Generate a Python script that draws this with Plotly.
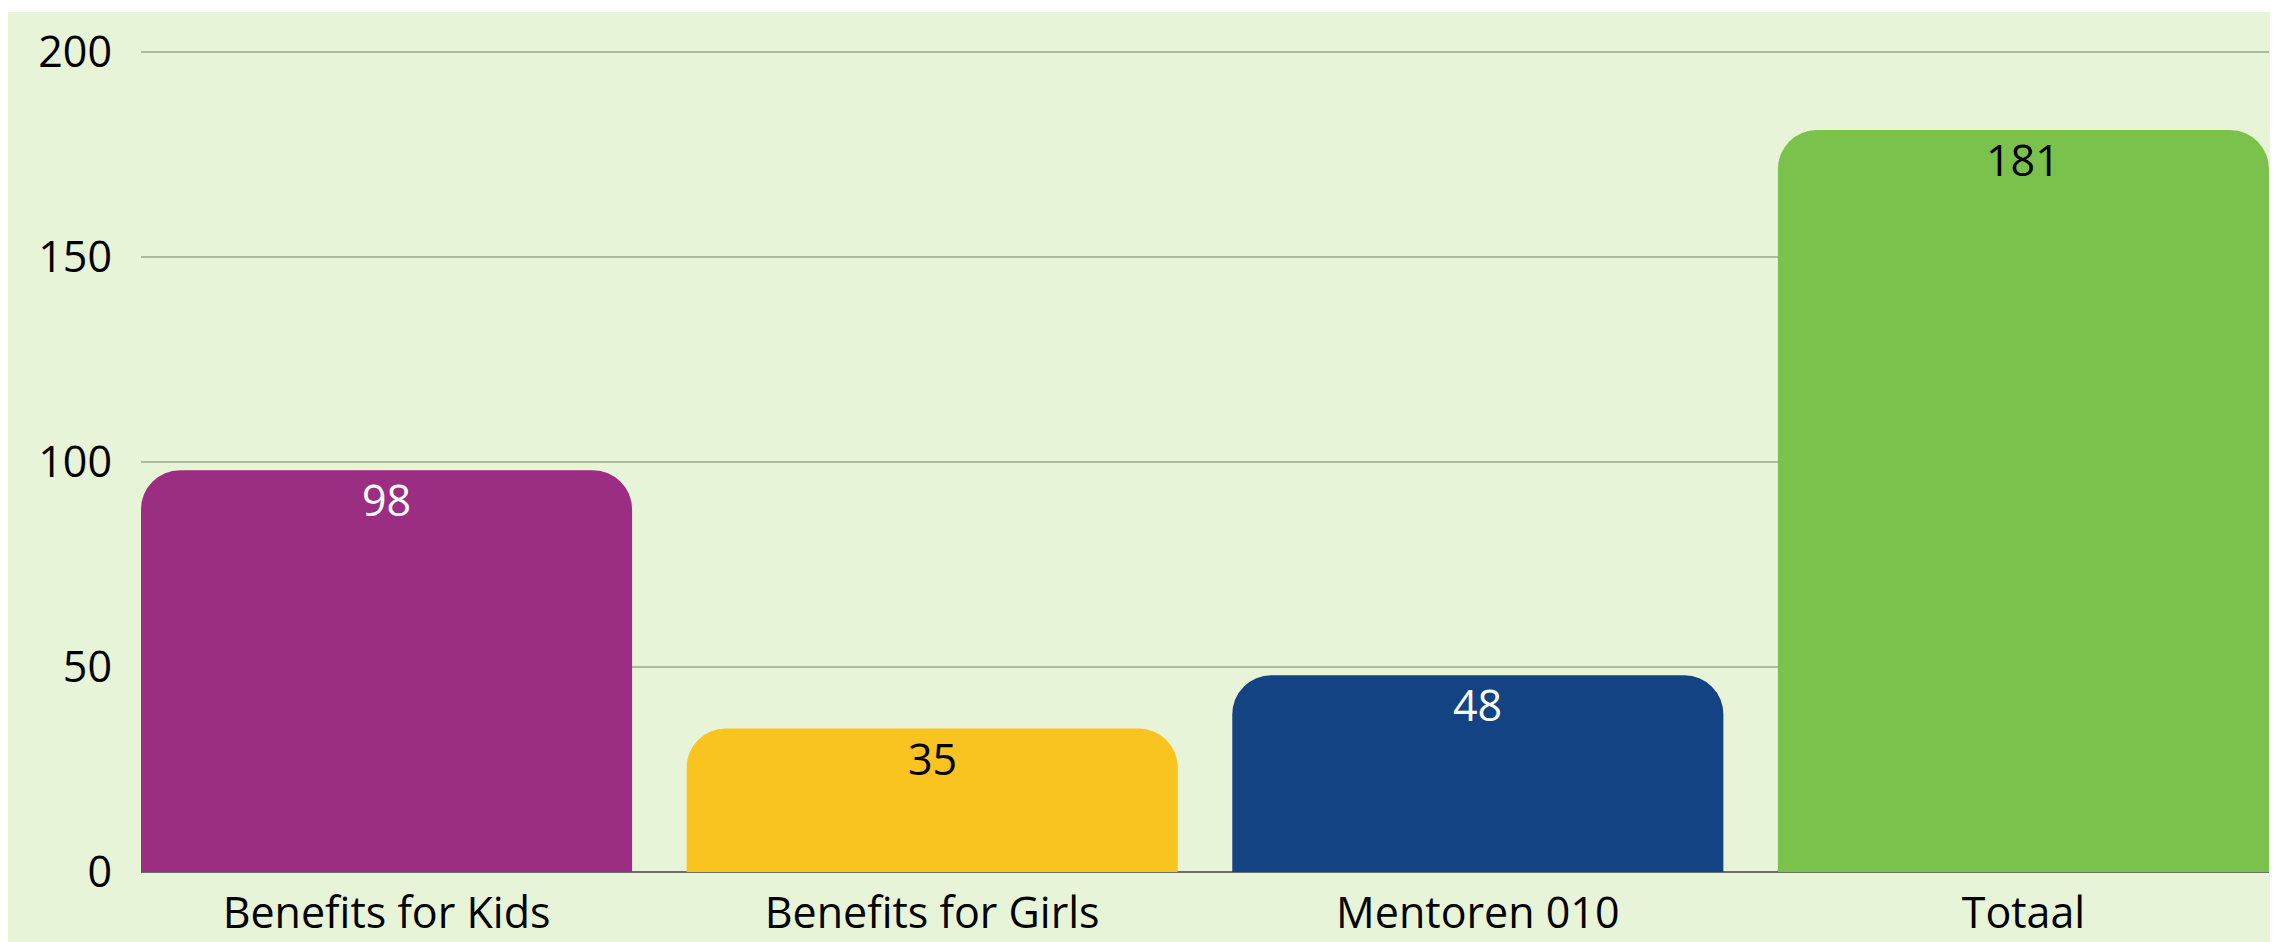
import plotly.graph_objects as go

categories = ["Benefits for Kids", "Benefits for Girls", "Mentoren 010", "Totaal"]
values = [98, 35, 48, 181]
bar_colors = ["#9B2D82", "#F9C320", "#144384", "#7AC24C"]
label_colors = ["#FFFFFF", "#000000", "#FFFFFF", "#000000"]
y_ticks = [0, 50, 100, 150, 200]

FONT = "Open Sans"
FS = 43
BG = "#E8F4D8"

# the page body has an 8px default margin; size the figure to fill the rest
OFF = 8
W, H = 2278 - OFF, 942 - OFF
ML, MR, MT, MB = 141 - OFF, 9, 48 - OFF, 70
pw = W - ML - MR
ph = H - MT - MB

fig = go.Figure()
fig.add_trace(go.Bar(
    x=list(range(len(categories))),
    y=values,
    marker=dict(color=bar_colors, line=dict(width=0), cornerradius=39),
    hoverinfo="skip",
))

for i, (v, c) in enumerate(zip(values, label_colors)):
    fig.add_annotation(
        x=i, y=v, xref="x", yref="y",
        text=str(v), showarrow=False,
        xanchor="center", yanchor="top", yshift=2,
        font=dict(family=FONT, size=FS, color=c),
    )

fig.add_shape(
    type="rect", xref="paper", yref="paper",
    x0=(-20 - ML) / pw, x1=(W + 20 - ML) / pw,
    y0=-(MB + 20) / ph, y1=(MT - (12 - OFF)) / ph + 1,
    fillcolor=BG, line=dict(width=0), layer="below",
)

fig.update_layout(
    width=W, height=H,
    margin=dict(l=ML, r=MR, t=MT, b=MB, pad=0, autoexpand=False),
    paper_bgcolor="white",
    plot_bgcolor=BG,
    bargap=0.1,
    showlegend=False,
    font=dict(family=FONT, size=FS, color="#000000"),
    xaxis=dict(
        tickmode="array",
        tickvals=list(range(len(categories))),
        ticktext=categories,
        range=[-0.45, len(categories) - 0.55],
        showgrid=False, zeroline=False, showline=False,
        ticks="", ticklabelstandoff=12, automargin=False,
        tickfont=dict(family=FONT, size=FS, color="#000000"),
    ),
    yaxis=dict(
        range=[0, 201],
        tickvals=y_ticks,
        showgrid=True, gridcolor="#ADB89F", gridwidth=1.5,
        zeroline=True, zerolinecolor="#6B6F66", zerolinewidth=2,
        showline=False, ticks="", ticklabelstandoff=28, automargin=False,
        tickfont=dict(family=FONT, size=FS, color="#000000"),
    ),
)

fig.write_html("out.html")
